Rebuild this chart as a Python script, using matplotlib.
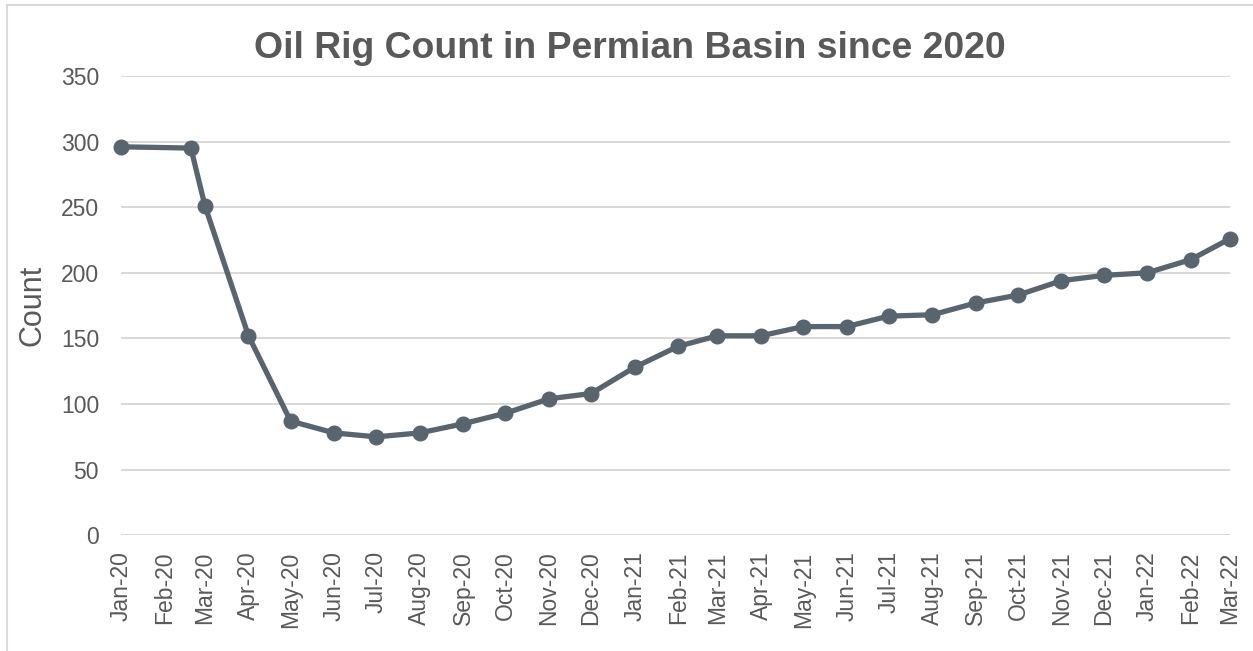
import matplotlib
matplotlib.use("Agg")
import matplotlib.pyplot as plt
from matplotlib.lines import Line2D
import pandas as pd

plt.rcParams['font.family'] = ['Liberation Sans', 'DejaVu Sans']

# ---- data ----
dates = ["2020-01-01", "2020-02-20", "2020-03-01", "2020-04-01", "2020-05-01", "2020-06-01",
         "2020-07-01", "2020-08-01", "2020-09-01", "2020-10-01", "2020-11-01", "2020-12-01",
         "2021-01-01", "2021-02-01", "2021-03-01", "2021-04-01", "2021-05-01", "2021-06-01",
         "2021-07-01", "2021-08-01", "2021-09-01", "2021-10-01", "2021-11-01", "2021-12-01",
         "2022-01-01", "2022-02-01", "2022-03-01"]
counts = [296, 295, 251, 152, 87, 78, 75, 78, 85, 93, 104, 108,
          128, 144, 152, 152, 159, 159, 167, 168, 177, 183, 194, 198,
          200, 210, 226]
tick_dates = ["2020-01-01", "2020-02-01", "2020-03-01", "2020-04-01", "2020-05-01", "2020-06-01",
              "2020-07-01", "2020-08-01", "2020-09-01", "2020-10-01", "2020-11-01", "2020-12-01",
              "2021-01-01", "2021-02-01", "2021-03-01", "2021-04-01", "2021-05-01", "2021-06-01",
              "2021-07-01", "2021-08-01", "2021-09-01", "2021-10-01", "2021-11-01", "2021-12-01",
              "2022-01-01", "2022-02-01", "2022-03-01"]
tick_labels = ["Jan-20", "Feb-20", "Mar-20", "Apr-20", "May-20", "Jun-20", "Jul-20", "Aug-20",
               "Sep-20", "Oct-20", "Nov-20", "Dec-20", "Jan-21", "Feb-21", "Mar-21", "Apr-21",
               "May-21", "Jun-21", "Jul-21", "Aug-21", "Sep-21", "Oct-21", "Nov-21", "Dec-21",
               "Jan-22", "Feb-22", "Mar-22"]
y_ticks = [0, 50, 100, 150, 200, 250, 300, 350]
title = "Oil Rig Count in Permian Basin since 2020"
ylabel = "Count"

W, H = 1253, 651
fig = plt.figure(figsize=(W / 100, H / 100), dpi=100)
ax = fig.add_axes([120.7 / W, 1 - 535.3 / H, (1230 - 120.7) / W, (535.3 - 75.9) / H])

x = pd.to_datetime(dates)
line_color = "#58646E"
ax.plot(x, counts, color=line_color, lw=3.8, marker='o', ms=10.5,
        markerfacecolor=line_color, markeredgecolor=line_color, clip_on=False, zorder=3)

ax.set_xlim(pd.Timestamp(tick_dates[0]), pd.Timestamp(tick_dates[-1]))
ax.set_ylim(0, 350)
ax.set_yticks(y_ticks)
ax.set_xticks(pd.to_datetime(tick_dates))
ax.set_xticklabels(tick_labels, rotation=90)

text_color = "#595959"
ax.tick_params(axis='y', length=0, pad=15.6, labelsize=16.5, labelcolor=text_color)
ax.tick_params(axis='x', length=0, pad=11.5, labelsize=16.5, labelcolor=text_color)
for s in ax.spines.values():
    s.set_visible(False)
ax.grid(axis='y', color="#D6D6D6", lw=1.3)
ax.grid(axis='x', visible=False)
ax.set_axisbelow(True)

fig.text(629.5 / W, 1 - 58.3 / H, title, ha='center', va='baseline',
         fontsize=26.9, fontweight='bold', color=text_color)
fig.text(32 / W, 1 - 305.8 / H, ylabel, ha='center', va='center', rotation=90,
         fontsize=22, color=text_color)

# chart-area border (left and top edges visible)
fig.add_artist(Line2D([7 / W, 7 / W], [0, 1 - 5 / H], transform=fig.transFigure,
                      color="#D9D9D9", lw=1.5))
fig.add_artist(Line2D([7 / W, 1], [1 - 5 / H, 1 - 5 / H], transform=fig.transFigure,
                      color="#D9D9D9", lw=1.5))

fig.savefig("out.png", dpi=100)
